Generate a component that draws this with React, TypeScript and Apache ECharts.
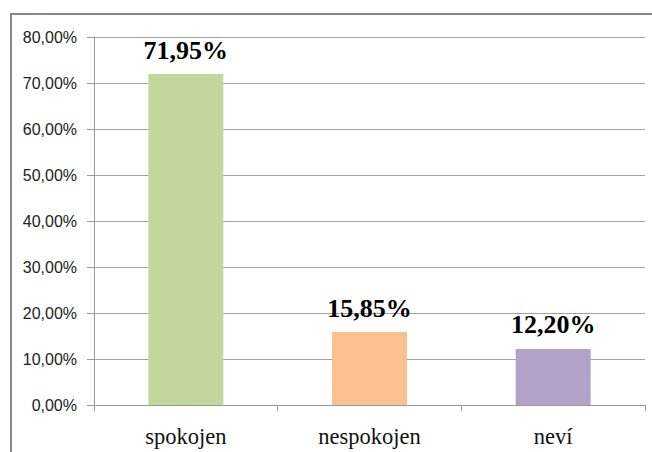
import React, { useEffect, useRef } from "react";
import * as echarts from "echarts";

const categories = ["spokojen", "nespokojen", "neví"];
const values = [71.95, 15.85, 12.2];
const barColors = ["#C3D69B", "#FAC090", "#B3A2C7"];
const yTicks = { min: 0, max: 80, interval: 10 };

const fmt = (v: number) => v.toFixed(2).replace(".", ",") + "%";
const SERIF = "Liberation Serif";
const SANS = "Liberation Sans";

export default function App() {
  const ref = useRef<HTMLDivElement>(null);
  useEffect(() => {
    if (!ref.current) return;
    const chart = echarts.init(ref.current, null, { renderer: "svg" });
    chart.setOption({
      animation: false,
      grid: { left: 94, right: 7, top: 37, bottom: 47, containLabel: false },
      graphic: [
        {
          type: "polyline",
          shape: { points: [[11, 460], [11, 14], [660, 14]] },
          style: { stroke: "#878787", lineWidth: 2, fill: "none" },
          silent: true,
        },
      ],
      xAxis: {
        type: "category",
        data: categories,
        boundaryGap: true,
        axisLine: { show: true, lineStyle: { color: "#9a9a9a", width: 1 } },
        axisTick: { show: true, length: 6, lineStyle: { color: "#9a9a9a" } },
        axisLabel: {
          margin: 20,
          fontFamily: SERIF,
          fontSize: 22.5,
          color: "#111",
        },
      },
      yAxis: {
        type: "value",
        min: yTicks.min,
        max: yTicks.max,
        interval: yTicks.interval,
        axisLine: { show: true, lineStyle: { color: "#9a9a9a", width: 1 } },
        axisTick: { show: true, length: 7, lineStyle: { color: "#9a9a9a" } },
        splitLine: { show: true, lineStyle: { color: "#a3a3a3", width: 1 } },
        axisLabel: {
          margin: 17,
          fontFamily: SANS,
          fontSize: 16,
          color: "#222",
          formatter: (v: number) => fmt(v),
        },
      },
      series: [
        {
          type: "bar",
          barWidth: 75,
          data: values.map((v, i) => ({ value: v, itemStyle: { color: barColors[i] } })),
          label: {
            show: true,
            position: "top",
            distance: 11,
            fontFamily: SERIF,
            fontWeight: "bold",
            fontSize: 26,
            color: "#000",
            formatter: (p: any) => fmt(p.value),
          },
        },
      ],
    });
    return () => chart.dispose();
  }, []);
  return (
    <div
      ref={ref}
      style={{ position: "fixed", left: 0, top: 0, width: 652, height: 452, background: "#fff" }}
    />
  );
}
